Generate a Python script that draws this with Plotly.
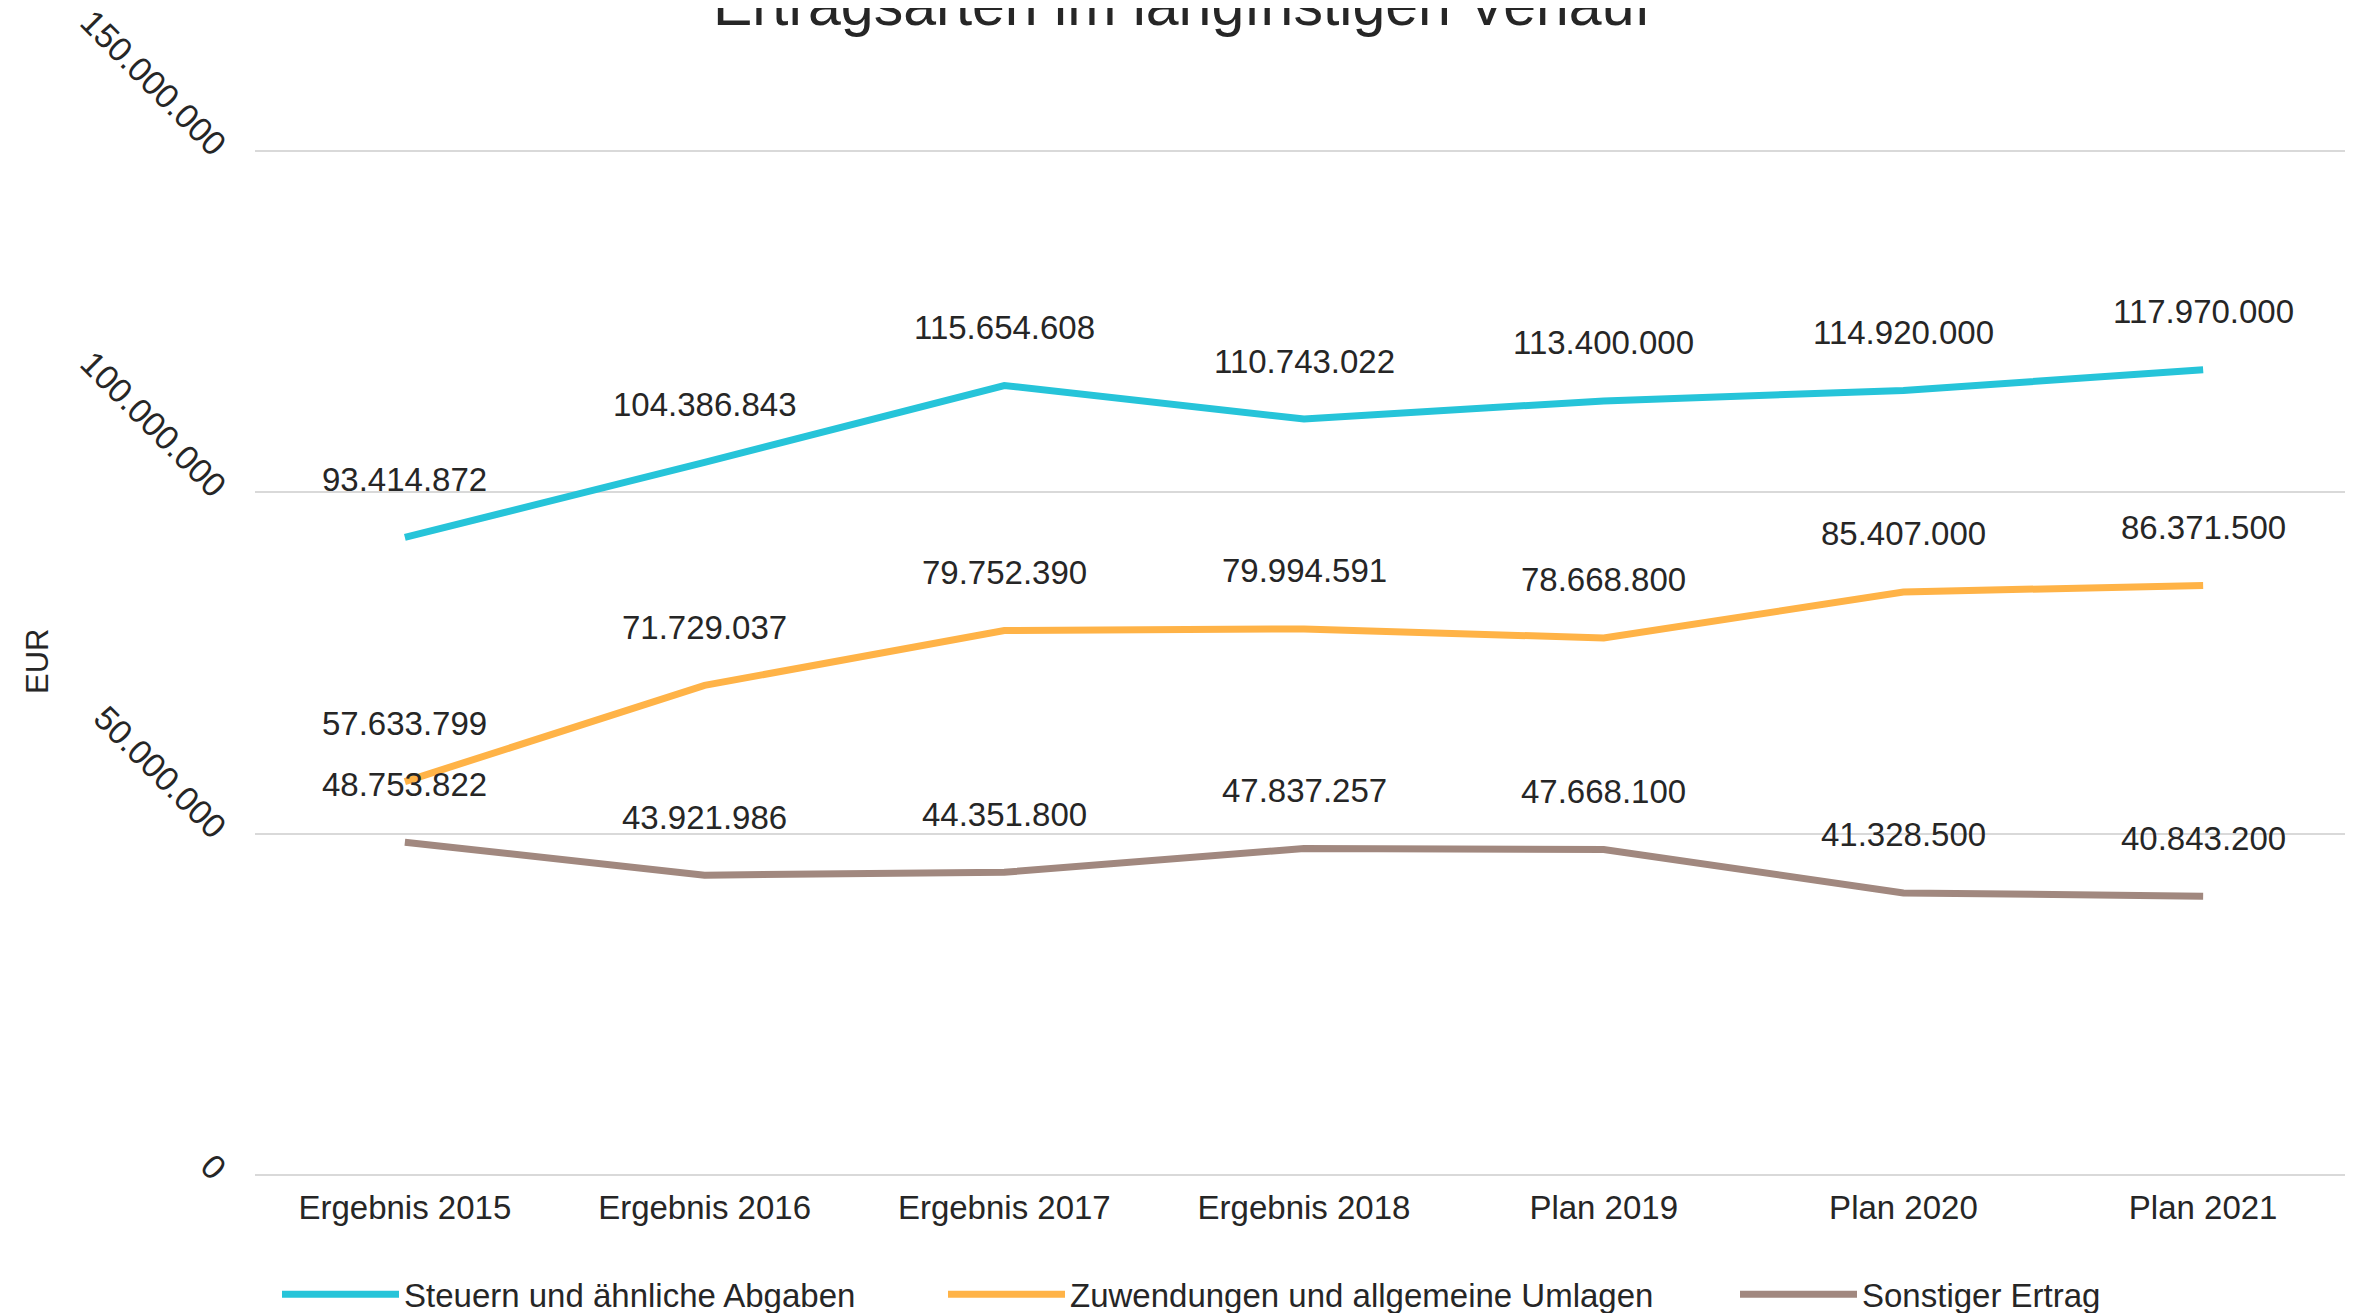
import plotly.graph_objects as go

categories = ["Ergebnis 2015", "Ergebnis 2016", "Ergebnis 2017", "Ergebnis 2018",
              "Plan 2019", "Plan 2020", "Plan 2021"]
steuern = [93414872, 104386843, 115654608, 110743022, 113400000, 114920000, 117970000]
zuwendungen = [57633799, 71729037, 79752390, 79994591, 78668800, 85407000, 86371500]
sonstiger = [48753822, 43921986, 44351800, 47837257, 47668100, 41328500, 40843200]
series_names = ["Steuern und ähnliche Abgaben", "Zuwendungen und allgemeine Umlagen", "Sonstiger Ertrag"]
series_colors = ["#26C4D9", "#FFB347", "#A1887F"]
y_ticks = [0, 50000000, 100000000, 150000000]
title_text = "Ertragsarten im langfristigen Verlauf"

OFF = 8  # default page body margin
W, H = 2353 - OFF, 1313 - OFF
ML, MT = 255 - OFF, 149 - OFF
PLOT_BOTTOM = 1175 - OFF
MB = H - PLOT_BOTTOM
MR = 0
PW = W - ML - MR
PH = PLOT_BOTTOM - MT

def de(v):
    return f"{v:,}".replace(",", ".")

fig = go.Figure()
all_series = [steuern, zuwendungen, sonstiger]
legend_ids = ["legend", "legend2", "legend3"]
for name, vals, col, lid in zip(series_names, all_series, series_colors, legend_ids):
    fig.add_trace(go.Scatter(
        x=categories, y=vals, name=name, mode="lines",
        line=dict(color=col, width=7), legend=lid, hoverinfo="skip"))

annotations = []
for vals in all_series:
    for c, v in zip(categories, vals):
        annotations.append(dict(x=c, y=v, text=de(v), showarrow=False, yshift=58,
                                font=dict(family="Liberation Sans, Arial", size=33, color="#262626")))
annotations.append(dict(xref="paper", yref="paper", x=(37 - OFF - ML) / PW, y=0.5, text="EUR",
                        textangle=-90, showarrow=False, xanchor="center", yanchor="middle",
                        font=dict(family="Liberation Sans, Arial", size=31, color="#262626")))
annotations.append(dict(xref="paper", yref="paper", x=(1182 - OFF - ML) / PW, y=1, yshift=MT + 3,
                        text=title_text, showarrow=False, xanchor="center", yanchor="middle",
                        font=dict(family="Liberation Sans, Arial", size=59, color="#262626")))

legend_font = dict(family="Liberation Sans, Arial", size=33, color="#262626")
def leg(px):
    return dict(x=(px - OFF - ML) / PW, xanchor="left", y=-0.089, yanchor="top",
                orientation="h", font=legend_font, bgcolor="rgba(0,0,0,0)", itemwidth=117)

fig.update_layout(
    width=W, height=H,
    margin=dict(l=ML, r=MR, t=MT, b=MB, autoexpand=False),
    paper_bgcolor="white", plot_bgcolor="white",
    separators=",.",
    xaxis=dict(type="category", range=[-0.5, 6.5], showgrid=False, showline=False,
               ticks="", tickfont=dict(family="Liberation Sans, Arial", size=33, color="#262626"),
               ticklabelstandoff=10),
    yaxis=dict(range=[0, 150300000], tickvals=y_ticks, tickformat=",d",
               showgrid=True, gridcolor="#D9D9D9", gridwidth=2,
               zeroline=True, zerolinecolor="#D9D9D9", zerolinewidth=2,
               showline=False, ticks="", tickangle=45, ticklabelstandoff=30,
               ticklabeloverflow="allow",
               tickfont=dict(family="Liberation Sans, Arial", size=34, color="#262626")),
    showlegend=True,
    legend=leg(277), legend2=leg(943), legend3=leg(1735),
    annotations=annotations,
)

fig.write_html("out.html")
